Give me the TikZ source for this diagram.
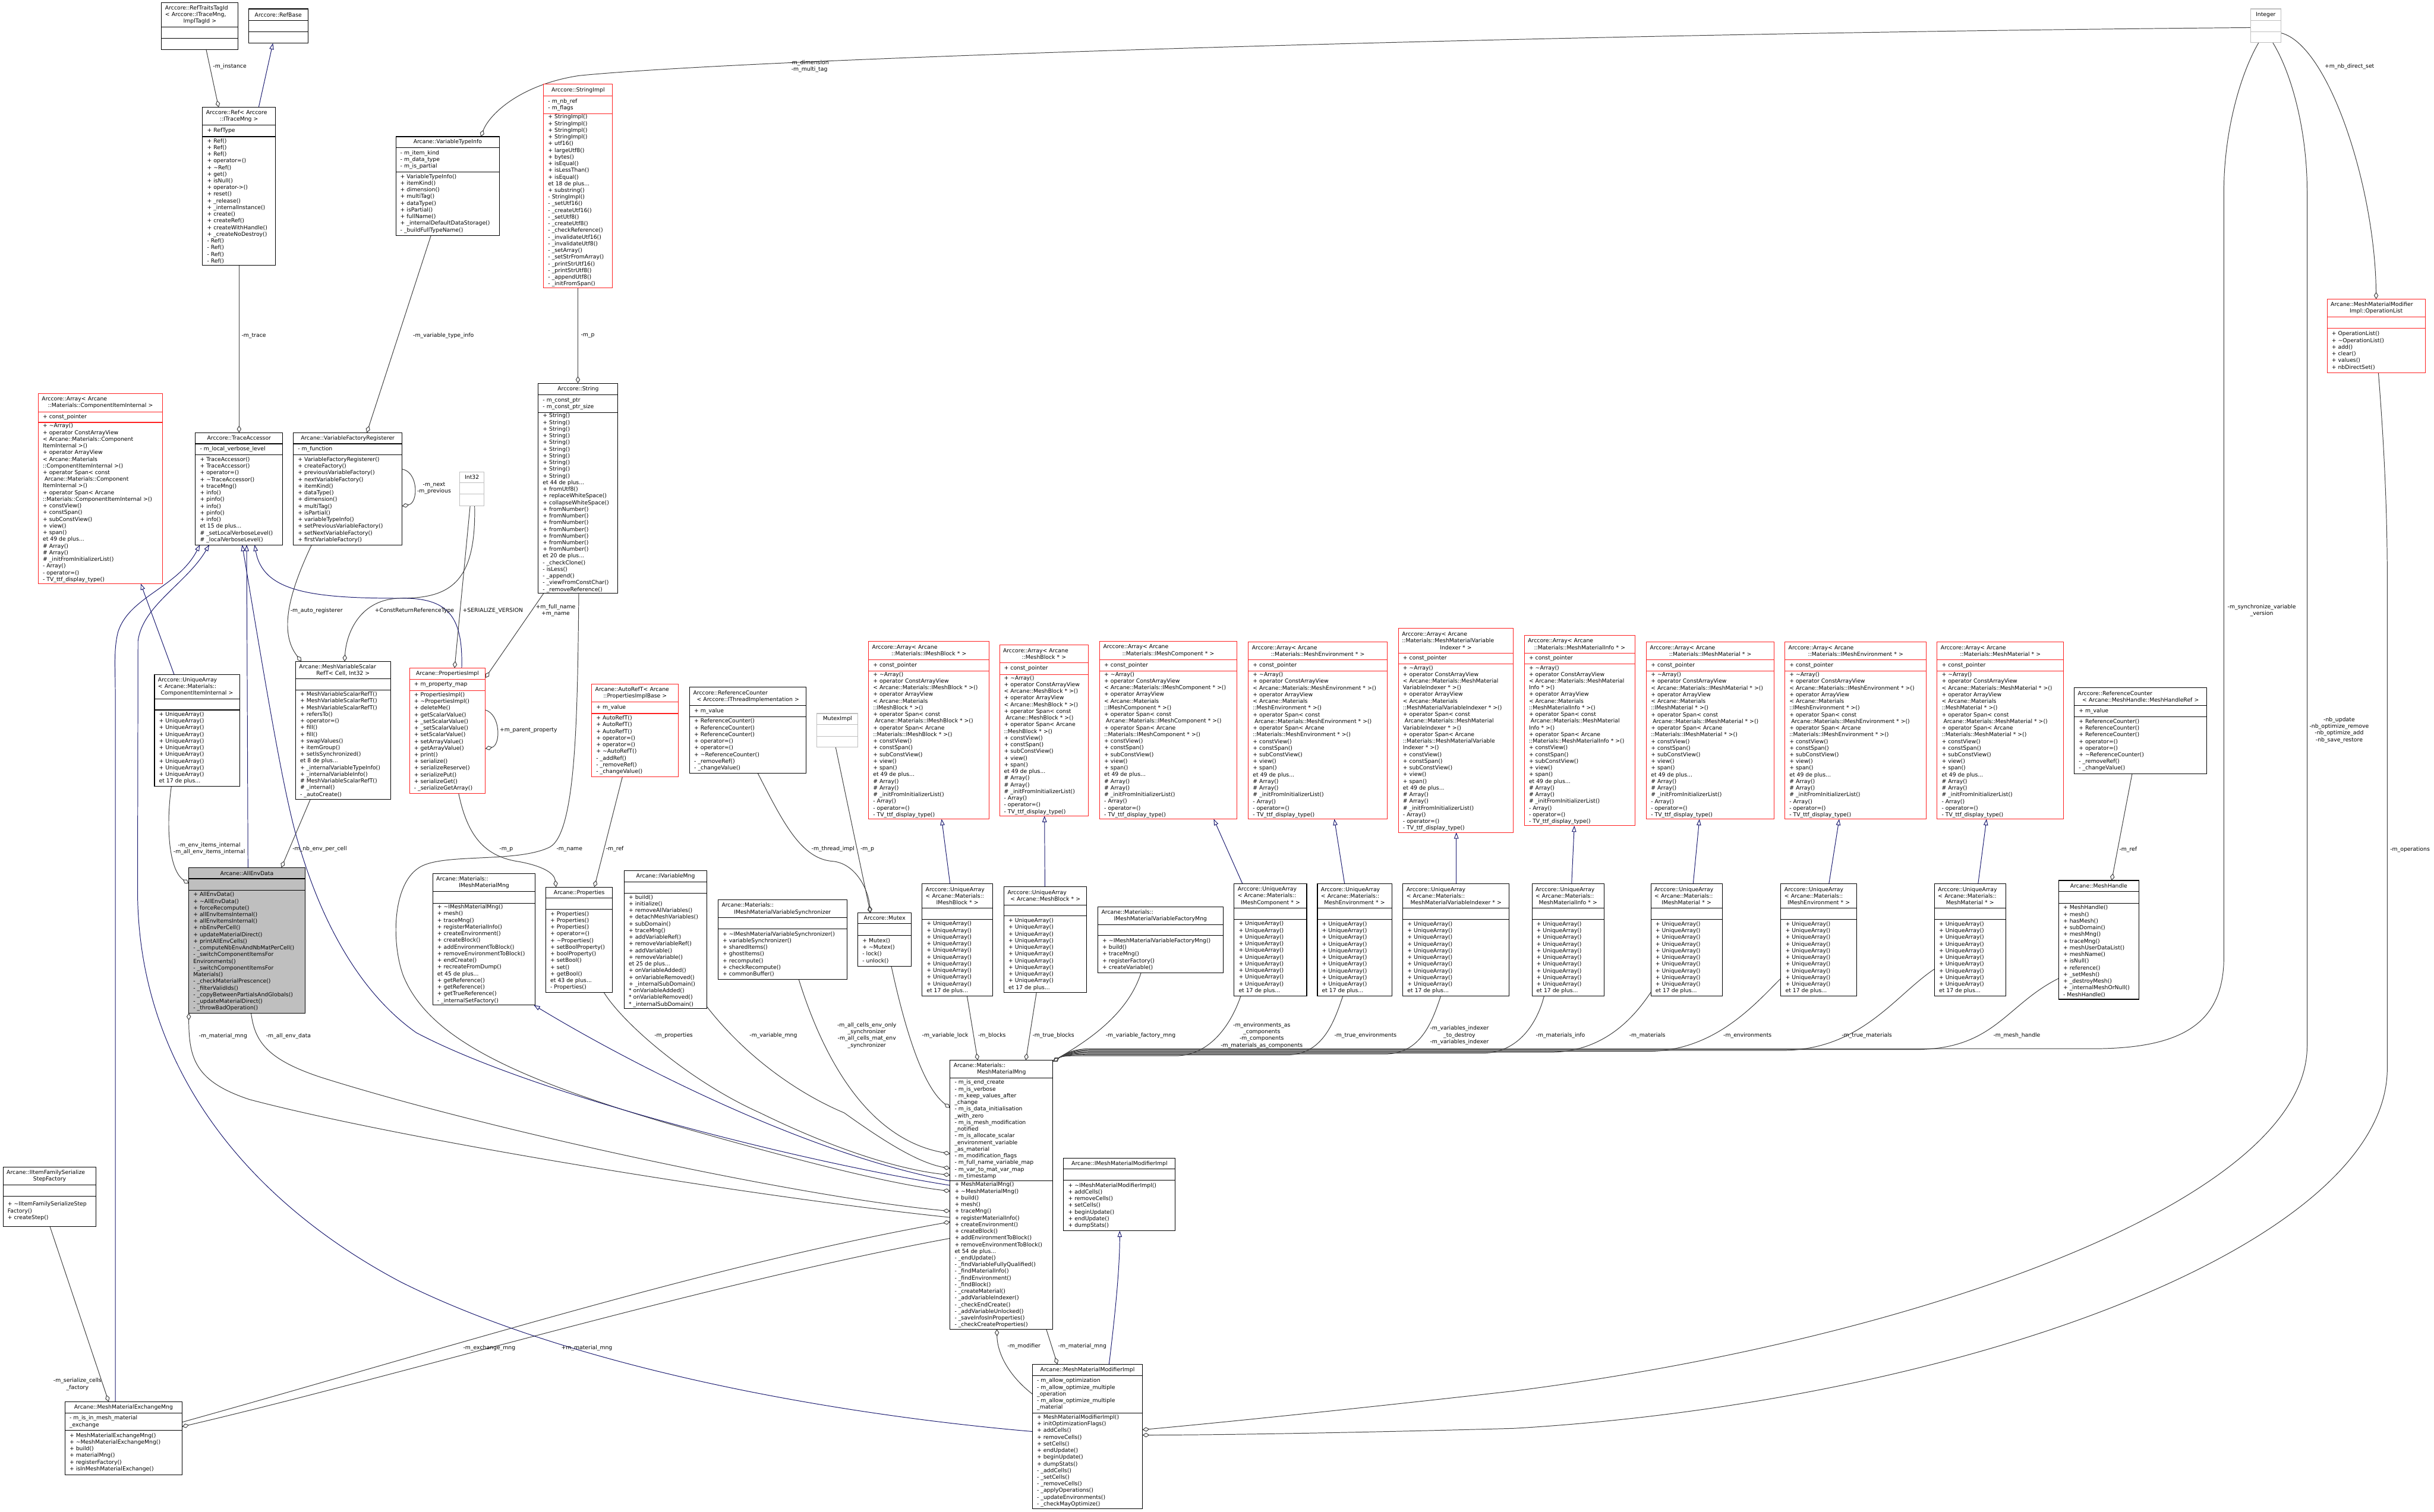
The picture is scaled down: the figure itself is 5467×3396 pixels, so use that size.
\documentclass[tikz,border=0pt]{standalone}
\usepackage{fontspec}
\setmainfont{DejaVu Sans}
\usetikzlibrary{arrows.meta,calc}
\pgfdeclarelayer{bgl}\pgfdeclarelayer{edgel}\pgfsetlayers{bgl,edgel,main}
\definecolor{boxred}{HTML}{FF2020}
\definecolor{boxgray}{HTML}{BFBFBF}
\definecolor{edgegray}{HTML}{404040}
\definecolor{inhblue}{HTML}{191970}
\newcommand{\fs}{\fontsize{12.4}{15}\selectfont}
\newcommand{\tld}{\textasciitilde}
\newcommand{\arrtail}{+ constView()\\+ constSpan()\\+ subConstView()\\+ view()\\+ span()\\et 49 de plus...\\\# Array()\\\# Array()\\\# \_initFromInitializerList()\\- Array()\\- operator=()\\- TV\_ttf\_display\_type()}
\newcommand{\arrstd}[1]{+ \tld{}Array()\\+ operator ConstArrayView\\< Arcane::Materials::#1 * >()\\+ operator ArrayView\\< Arcane::Materials\\::#1 * >()\\+ operator Span< const\\\ Arcane::Materials::#1 * >()\\+ operator Span< Arcane\\::Materials::#1 * >()\\\arrtail}
\newcommand{\uameth}{+ UniqueArray()\\+ UniqueArray()\\+ UniqueArray()\\+ UniqueArray()\\+ UniqueArray()\\+ UniqueArray()\\+ UniqueArray()\\+ UniqueArray()\\+ UniqueArray()\\+ UniqueArray()\\et 17 de plus...}
\newcommand{\rcmeth}{+ ReferenceCounter()\\+ ReferenceCounter()\\+ ReferenceCounter()\\+ operator=()\\+ operator=()\\+ \tld{}ReferenceCounter()\\- \_removeRef()\\- \_changeValue()}
\def\umlparse#1,#2,#3,#4\relax{\def\bxa{#1}\def\bxb{#2}\def\bxc{#3}\def\bxd{#4}}
\def\umldiv#1,#2\relax{\def\dva{#1}\def\dvb{#2}}
\newcommand{\umlbox}[8]{%
  \umlparse#2\relax\umldiv#3\relax
  \pgfmathsetmacro\uW{\bxc-\bxa}\pgfmathsetmacro\uH{\bxd-\bxb}%
  \pgfmathsetmacro\uTW{\bxc-\bxa-16}%
  \node[#4, anchor=north west, inner sep=0pt, outer sep=0pt, minimum width=\uW pt, minimum height=\uH pt] (#1) at (\bxa,\bxb) {};
  \draw[#4, fill=none] (\bxa,\dva) -- (\bxc,\dva) (\bxa,\dvb) -- (\bxc,\dvb);
  \pgfmathsetmacro\uTX{(\bxa+\bxc)/2}\pgfmathsetmacro\uTY{(\bxb+\dva)/2}%
  \node[ttl, text width=\uTW pt] at (\uTX,\uTY) {#5\hbox to\hsize{\hfil #6\hfil}};
  \pgfmathsetmacro\uAX{\bxa+10}\pgfmathsetmacro\uAY{(\dva+\dvb)/2}%
  \node[mem] at (\uAX,\uAY) {#7};
  \pgfmathsetmacro\uMY{(\dvb+\bxd)/2}%
  \node[mem] at (\uAX,\uMY) {#8};
}
\tikzset{
  boxblack/.style={draw=black, fill=white, line width=1.4pt},
  boxred/.style={draw=boxred, fill=white, line width=1.4pt},
  boxgray/.style={draw=boxgray, fill=white, line width=1.4pt},
  boxfill/.style={draw=black, fill=boxgray, line width=1.4pt},
  ttl/.style={font=\fs, align=left, inner sep=0pt},
  mem/.style={font=\fs, align=left, inner sep=0pt, anchor=west},
  lbl/.style={font=\fs, align=center, inner sep=0pt},
  agg/.style={draw=edgegray, line width=1.3pt, -{Diamond[open,length=16pt,width=10pt]}},
  inh/.style={draw=inhblue, line width=1.3pt, -{Triangle[open,length=14pt,width=10pt]}},
}
\begin{document}
\begin{tikzpicture}[x=1pt,y=-1pt]
\begin{pgfonlayer}{bgl}
\fill[white] (0,0) rectangle (5467,3396);
\end{pgfonlayer}
\useasboundingbox (0,0) rectangle (5467,3396);

% ---------------- boxes ----------------
\umlbox{rtt}{363,6,535,111}{61,86}{boxblack}{Arccore::RefTraitsTagId\\< Arccore::ITraceMng,\\}{ImplTagId >}{}{}
\umlbox{refbase}{558,20,692,97}{46,71}{boxblack}{}{Arccore::RefBase}{}{}
\umlbox{ref}{455,241,619,596}{281,307}{boxblack}{Arccore::Ref< Arccore\\}{::ITraceMng >}{+ RefType}{+ Ref()\\+ Ref()\\+ Ref()\\+ operator=()\\+ \tld{}Ref()\\+ get()\\+ isNull()\\+ operator->()\\+ reset()\\+ \_release()\\+ \_internalInstance()\\+ create()\\+ createRef()\\+ createWithHandle()\\+ \_createNoDestroy()\\- Ref()\\- Ref()\\- Ref()\\- Ref()}
\umlbox{vti}{889,307,1122,529}{332,386}{boxblack}{}{Arcane::VariableTypeInfo}{- m\_item\_kind\\- m\_data\_type\\- m\_is\_partial}{+ VariableTypeInfo()\\+ itemKind()\\+ dimension()\\+ multiTag()\\+ dataType()\\+ isPartial()\\+ fullName()\\+ \_internalDefaultDataStorage()\\- \_buildFullTypeName()}
\umlbox{simpl}{1221,189,1376,647}{216,255}{boxred}{}{Arccore::StringImpl}{- m\_nb\_ref\\- m\_flags}{+ StringImpl()\\+ StringImpl()\\+ StringImpl()\\+ StringImpl()\\+ utf16()\\+ largeUtf8()\\+ bytes()\\+ isEqual()\\+ isLessThan()\\+ isEqual()\\et 18 de plus...\\+ substring()\\- StringImpl()\\- \_setUtf16()\\- \_createUtf16()\\- \_setUtf8()\\- \_createUtf8()\\- \_checkReference()\\- \_invalidateUtf16()\\- \_invalidateUtf8()\\- \_setArray()\\- \_setStrFromArray()\\- \_printStrUtf16()\\- \_printStrUtf8()\\- \_appendUtf8()\\- \_initFromSpan()}
\umlbox{str}{1209,861,1388,1333}{887,927}{boxblack}{}{Arccore::String}{- m\_const\_ptr\\- m\_const\_ptr\_size}{+ String()\\+ String()\\+ String()\\+ String()\\+ String()\\+ String()\\+ String()\\+ String()\\+ String()\\+ String()\\et 44 de plus...\\+ fromUtf8()\\+ replaceWhiteSpace()\\+ collapseWhiteSpace()\\+ fromNumber()\\+ fromNumber()\\+ fromNumber()\\+ fromNumber()\\+ fromNumber()\\+ fromNumber()\\+ fromNumber()\\et 20 de plus...\\- \_checkClone()\\- isLess()\\- \_append()\\- \_viewFromConstChar()\\- \_removeReference()}
\umlbox{arrcii}{86,884,365,1311}{925,949}{boxred}{Arccore::Array< Arcane\\}{::Materials::ComponentItemInternal >}{+ const\_pointer}{+ \tld{}Array()\\+ operator ConstArrayView\\< Arcane::Materials::Component\\ItemInternal >()\\+ operator ArrayView\\< Arcane::Materials\\::ComponentItemInternal >()\\+ operator Span< const\\\ Arcane::Materials::Component\\ItemInternal >()\\+ operator Span< Arcane\\::Materials::ComponentItemInternal >()\\\arrtail}
\umlbox{ta}{439,972,635,1224}{997,1022}{boxblack}{}{Arccore::TraceAccessor}{- m\_local\_verbose\_level}{+ TraceAccessor()\\+ TraceAccessor()\\+ operator=()\\+ \tld{}TraceAccessor()\\+ traceMng()\\+ info()\\+ pinfo()\\+ info()\\+ pinfo()\\+ info()\\et 15 de plus...\\\# \_setLocalVerboseLevel()\\\# \_localVerboseLevel()}
\umlbox{vfr}{659,972,903,1224}{997,1022}{boxblack}{}{Arcane::VariableFactoryRegisterer}{- m\_function}{+ VariableFactoryRegisterer()\\+ createFactory()\\+ previousVariableFactory()\\+ nextVariableFactory()\\+ itemKind()\\+ dataType()\\+ dimension()\\+ multiTag()\\+ isPartial()\\+ variableTypeInfo()\\+ setPreviousVariableFactory()\\+ setNextVariableFactory()\\+ firstVariableFactory()}
\umlbox{int32}{1033,1060,1087,1136}{1085,1110}{boxgray}{}{Int32}{}{}
\umlbox{mvsr}{664,1486,877,1796}{1525,1550}{boxblack}{Arcane::MeshVariableScalar\\}{RefT< Cell, Int32 >}{}{+ MeshVariableScalarRefT()\\+ MeshVariableScalarRefT()\\+ MeshVariableScalarRefT()\\+ refersTo()\\+ operator=()\\+ fill()\\+ fill()\\+ swapValues()\\+ itemGroup()\\+ setIsSynchronized()\\et 8 de plus...\\+ \_internalVariableTypeInfo()\\+ \_internalVariableInfo()\\\# MeshVariableScalarRefT()\\\# \_internal()\\- \_autoCreate()}
\umlbox{pimpl}{920,1501,1090,1782}{1526,1551}{boxred}{}{Arcane::PropertiesImpl}{+ m\_property\_map}{+ PropertiesImpl()\\+ \tld{}PropertiesImpl()\\+ deleteMe()\\+ getScalarValue()\\+ \_setScalarValue()\\+ \_setScalarValue()\\+ setScalarValue()\\+ setArrayValue()\\+ getArrayValue()\\+ print()\\+ serialize()\\+ serializeReserve()\\+ serializePut()\\+ serializeGet()\\- \_serializeGetArray()}
\umlbox{uacii}{347,1515,538,1766}{1570,1595}{boxblack}{Arccore::UniqueArray\\< Arcane::Materials::\\}{ComponentItemInternal >}{}{\uameth}
\umlbox{autoref}{1329,1537,1524,1745}{1577,1603}{boxred}{Arcane::AutoRefT< Arcane\\}{::PropertiesImplBase >}{+ m\_value}{+ AutoRefT()\\+ AutoRefT()\\+ AutoRefT()\\+ operator=()\\+ operator=()\\+ \tld{}AutoRefT()\\- \_addRef()\\- \_removeRef()\\- \_changeValue()}
\umlbox{rcthr}{1549,1544,1811,1737}{1585,1610}{boxblack}{Arccore::ReferenceCounter\\}{< Arccore::IThreadImplementation >}{+ m\_value}{\rcmeth}
\umlbox{mutimpl}{1835,1603,1927,1679}{1628,1654}{boxgray}{}{MutexImpl}{}{}
\umlbox{aed}{424,1949,685,2276}{1974,2000}{boxfill}{}{Arcane::AllEnvData}{}{+ AllEnvData()\\+ \tld{}AllEnvData()\\+ forceRecompute()\\+ allEnvItemsInternal()\\+ allEnvItemsInternal()\\+ nbEnvPerCell()\\+ updateMaterialDirect()\\+ printAllEnvCells()\\- \_computeNbEnvAndNbMatPerCell()\\- \_switchComponentItemsFor\\Environments()\\- \_switchComponentItemsFor\\Materials()\\- \_checkMaterialPrescence()\\- \_filterValidIds()\\- \_copyBetweenPartialsAndGlobals()\\- \_updateMaterialDirect()\\- \_throwBadOperation()}
\umlbox{immm}{972,1963,1202,2258}{2003,2029}{boxblack}{Arcane::Materials::\\}{IMeshMaterialMng}{}{+ \tld{}IMeshMaterialMng()\\+ mesh()\\+ traceMng()\\+ registerMaterialInfo()\\+ createEnvironment()\\+ createBlock()\\+ addEnvironmentToBlock()\\+ removeEnvironmentToBlock()\\+ endCreate()\\+ recreateFromDump()\\et 45 de plus...\\+ getReference()\\+ getReference()\\+ getTrueReference()\\- \_internalSetFactory()}
\umlbox{props}{1226,1993,1376,2229}{2018,2043}{boxblack}{}{Arcane::Properties}{}{+ Properties()\\+ Properties()\\+ Properties()\\+ operator=()\\+ \tld{}Properties()\\+ setBoolProperty()\\+ boolProperty()\\+ setBool()\\+ set()\\+ getBool()\\et 43 de plus...\\- Properties()}
\umlbox{ivm}{1402,1956,1588,2266}{1981,2007}{boxblack}{}{Arcane::IVariableMng}{}{+ build()\\+ initialize()\\+ removeAllVariables()\\+ detachMeshVariables()\\+ subDomain()\\+ traceMng()\\+ addVariableRef()\\+ removeVariableRef()\\+ addVariable()\\+ removeVariable()\\et 25 de plus...\\+ onVariableAdded()\\+ onVariableRemoved()\\+ \_internalSubDomain()\\{}* onVariableAdded()\\{}* onVariableRemoved()\\{}* \_internalSubDomain()}
\umlbox{immvs}{1613,2022,1902,2200}{2062,2087}{boxblack}{Arcane::Materials::\\}{IMeshMaterialVariableSynchronizer}{}{+ \tld{}IMeshMaterialVariableSynchronizer()\\+ variableSynchronizer()\\+ sharedItems()\\+ ghostItems()\\+ recompute()\\+ checkRecompute()\\+ commonBuffer()}
\umlbox{mutex}{1927,2051,2047,2171}{2075,2101}{boxblack}{}{Arccore::Mutex}{}{+ Mutex()\\+ \tld{}Mutex()\\- lock()\\- unlock()}
\umlbox{arrimb}{1951,1441,2222,1840}{1482,1507}{boxred}{Arccore::Array< Arcane\\}{::Materials::IMeshBlock * >}{+ const\_pointer}{\arrstd{IMeshBlock}}
\umlbox{arrmb}{2245,1449,2445,1833}{1489,1515}{boxred}{Arccore::Array< Arcane\\}{::MeshBlock * >}{+ const\_pointer}{+ \tld{}Array()\\+ operator ConstArrayView\\< Arcane::MeshBlock * >()\\+ operator ArrayView\\< Arcane::MeshBlock * >()\\+ operator Span< const\\\ Arcane::MeshBlock * >()\\+ operator Span< Arcane\\::MeshBlock * >()\\\arrtail}
\umlbox{arrimc}{2470,1441,2778,1840}{1482,1507}{boxred}{Arccore::Array< Arcane\\}{::Materials::IMeshComponent * >}{+ const\_pointer}{\arrstd{IMeshComponent}}
\umlbox{arrme}{2804,1442,3116,1840}{1482,1508}{boxred}{Arccore::Array< Arcane\\}{::Materials::MeshEnvironment * >}{+ const\_pointer}{\arrstd{MeshEnvironment}}
\umlbox{arrmvi}{3141,1412,3399,1870}{1467,1492}{boxred}{Arccore::Array< Arcane\\::Materials::MeshMaterialVariable\\}{Indexer * >}{+ const\_pointer}{+ \tld{}Array()\\+ operator ConstArrayView\\< Arcane::Materials::MeshMaterial\\VariableIndexer * >()\\+ operator ArrayView\\< Arcane::Materials\\::MeshMaterialVariableIndexer * >()\\+ operator Span< const\\\ Arcane::Materials::MeshMaterial\\VariableIndexer * >()\\+ operator Span< Arcane\\::Materials::MeshMaterialVariable\\Indexer * >()\\\arrtail}
\umlbox{arrmmi}{3424,1427,3672,1855}{1467,1492}{boxred}{Arccore::Array< Arcane\\}{::Materials::MeshMaterialInfo * >}{+ const\_pointer}{+ \tld{}Array()\\+ operator ConstArrayView\\< Arcane::Materials::MeshMaterial\\Info * >()\\+ operator ArrayView\\< Arcane::Materials\\::MeshMaterialInfo * >()\\+ operator Span< const\\\ Arcane::Materials::MeshMaterial\\Info * >()\\+ operator Span< Arcane\\::Materials::MeshMaterialInfo * >()\\\arrtail}
\umlbox{arrimm}{3698,1442,3985,1840}{1482,1508}{boxred}{Arccore::Array< Arcane\\}{::Materials::IMeshMaterial * >}{+ const\_pointer}{\arrstd{IMeshMaterial}}
\umlbox{arrime}{4009,1442,4327,1840}{1482,1508}{boxred}{Arccore::Array< Arcane\\}{::Materials::IMeshEnvironment * >}{+ const\_pointer}{\arrstd{IMeshEnvironment}}
\umlbox{arrmm}{4351,1442,4635,1840}{1482,1508}{boxred}{Arccore::Array< Arcane\\}{::Materials::MeshMaterial * >}{+ const\_pointer}{\arrstd{MeshMaterial}}
\umlbox{uaimb}{2071,1986,2230,2237}{2040,2065}{boxblack}{Arccore::UniqueArray\\< Arcane::Materials::\\}{IMeshBlock * >}{}{\uameth}
\umlbox{uamb}{2255,1992,2441,2230}{2033,2058}{boxblack}{Arccore::UniqueArray\\}{< Arcane::MeshBlock * >}{}{\uameth}
\umlbox{immvfm}{2466,2037,2747,2185}{2077,2102}{boxblack}{Arcane::Materials::\\}{IMeshMaterialVariableFactoryMng}{}{+ \tld{}IMeshMaterialVariableFactoryMng()\\+ build()\\+ traceMng()\\+ registerFactory()\\+ createVariable()}
\umlbox{uaimc}{2772,1986,2935,2237}{2040,2065}{boxblack}{Arccore::UniqueArray\\< Arcane::Materials::\\}{IMeshComponent * >}{}{\uameth}
\umlbox{uame}{2959,1985,3126,2238}{2040,2065}{boxblack}{Arccore::UniqueArray\\< Arcane::Materials::\\}{MeshEnvironment * >}{}{\uameth}
\umlbox{uamvi}{3151,1985,3390,2238}{2040,2065}{boxblack}{Arccore::UniqueArray\\< Arcane::Materials::\\}{MeshMaterialVariableIndexer * >}{}{\uameth}
\umlbox{uammi}{3441,1985,3603,2238}{2040,2065}{boxblack}{Arccore::UniqueArray\\< Arcane::Materials::\\}{MeshMaterialInfo * >}{}{\uameth}
\umlbox{uaimm}{3708,1985,3868,2238}{2040,2065}{boxblack}{Arccore::UniqueArray\\< Arcane::Materials::\\}{IMeshMaterial * >}{}{\uameth}
\umlbox{uaime}{4000,1985,4170,2238}{2040,2065}{boxblack}{Arccore::UniqueArray\\< Arcane::Materials::\\}{IMeshEnvironment * >}{}{\uameth}
\umlbox{uamm}{4345,1985,4505,2238}{2040,2065}{boxblack}{Arccore::UniqueArray\\< Arcane::Materials::\\}{MeshMaterial * >}{}{\uameth}
\umlbox{rcmh}{4659,1545,4957,1738}{1585,1610}{boxblack}{Arccore::ReferenceCounter\\}{< Arcane::MeshHandle::MeshHandleRef >}{+ m\_value}{\rcmeth}
\umlbox{mh}{4624,1978,4804,2245}{2003,2029}{boxblack}{}{Arcane::MeshHandle}{}{+ MeshHandle()\\+ mesh()\\+ hasMesh()\\+ subDomain()\\+ meshMng()\\+ traceMng()\\+ meshUserDataList()\\+ meshName()\\+ isNull()\\+ reference()\\+ \_setMesh()\\+ \_destroyMesh()\\+ \_internalMeshOrNull()\\- MeshHandle()}
\umlbox{integer}{5055,20,5123,96}{46,71}{boxgray}{}{Integer}{}{}
\umlbox{oplist}{5227,672,5447,837}{712,738}{boxred}{Arcane::MeshMaterialModifier\\}{Impl::OperationList}{}{+ OperationList()\\+ \tld{}OperationList()\\+ add()\\+ clear()\\+ values()\\+ nbDirectSet()}
\umlbox{mmm}{2134,2382,2365,2986}{2422,2653}{boxblack}{Arcane::Materials::\\}{MeshMaterialMng}{- m\_is\_end\_create\\- m\_is\_verbose\\- m\_keep\_values\_after\\\_change\\- m\_is\_data\_initialisation\\\_with\_zero\\- m\_is\_mesh\_modification\\\_notified\\- m\_is\_allocate\_scalar\\\_environment\_variable\\\_as\_material\\- m\_modification\_flags\\- m\_full\_name\_variable\_map\\- m\_var\_to\_mat\_var\_map\\- m\_timestamp}{+ MeshMaterialMng()\\+ \tld{}MeshMaterialMng()\\+ build()\\+ mesh()\\+ traceMng()\\+ registerMaterialInfo()\\+ createEnvironment()\\+ createBlock()\\+ addEnvironmentToBlock()\\+ removeEnvironmentToBlock()\\et 54 de plus...\\- \_endUpdate()\\- \_findVariableFullyQualified()\\- \_findMaterialInfo()\\- \_findEnvironment()\\- \_findBlock()\\- \_createMaterial()\\- \_addVariableIndexer()\\- \_checkEndCreate()\\- \_addVariableUnlocked()\\- \_saveInfosInProperties()\\- \_checkCreateProperties()}
\umlbox{immmi}{2389,2602,2640,2765}{2626,2652}{boxblack}{}{Arcane::IMeshMaterialModifierImpl}{}{+ \tld{}IMeshMaterialModifierImpl()\\+ addCells()\\+ removeCells()\\+ setCells()\\+ beginUpdate()\\+ endUpdate()\\+ dumpStats()}
\umlbox{mmmi}{2319,3065,2566,3390}{3091,3174}{boxblack}{}{Arcane::MeshMaterialModifierImpl}{- m\_allow\_optimization\\- m\_allow\_optimize\_multiple\\\_operation\\- m\_allow\_optimize\_multiple\\\_material}{+ MeshMaterialModifierImpl()\\+ initOptimizationFlags()\\+ addCells()\\+ removeCells()\\+ setCells()\\+ endUpdate()\\+ beginUpdate()\\+ dumpStats()\\- \_addCells()\\- \_setCells()\\- \_removeCells()\\- \_applyOperations()\\- \_updateEnvironments()\\- \_checkMayOptimize()}
\umlbox{iifs}{7,2622,216,2755}{2662,2687}{boxblack}{Arcane::IItemFamilySerialize\\}{StepFactory}{}{+ \tld{}IItemFamilySerializeStep\\Factory()\\+ createStep()}
\umlbox{mmem}{146,3149,409,3313}{3175,3213}{boxblack}{}{Arcane::MeshMaterialExchangeMng}{- m\_is\_in\_mesh\_material\\\_exchange}{+ MeshMaterialExchangeMng()\\+ \tld{}MeshMaterialExchangeMng()\\+ build()\\+ materialMng()\\+ registerFactory()\\+ isInMeshMaterialExchange()}

% ---------------- connectors ----------------
\begin{pgfonlayer}{edgel}
\draw[agg] ($(rtt.south west)+(100,0)$) -- ($(ref.north west)+(36,0)$);
\draw[inh] ($(ref.north west)+(126,0)$) -- ($(refbase.south west)+(55,0)$);
\draw[agg] ($(ref.south west)+(82,0)$) -- ($(ta.north west)+(98,0)$);
\draw[agg] ($(vti.south west)+(79,0)$) -- ($(vfr.north west)+(165,0)$);
\draw[agg] ($(integer.west)+(0,4)$) .. controls (3500,75) and (1700,130) .. (1300,170) .. controls (1170,190) and (1100,255) .. ($(vti.north west)+(191,0)$);
\draw[agg] ($(simpl.south west)+(77,0)$) -- ($(str.north west)+(89,0)$);
\draw[agg] ($(vfr.north east)+(0,82)$) .. controls (940,1060) and (940,1130) .. ($(vfr.north east)+(0,165)$);
\draw[agg] ($(vfr.south west)+(41,0)$) .. controls (650,1330) and (625,1420) .. ($(mvsr.north west)+(13,0)$);
\draw[agg] ($(int32.south west)+(33,0)$) .. controls (1070,1310) and (1010,1344) .. (900,1344) .. controls (810,1345) and (778,1420) .. ($(mvsr.north west)+(110,0)$);
\draw[agg] ($(int32.south west)+(23,0)$) -- ($(pimpl.north west)+(101,0)$);
\draw[inh] ($(pimpl.north west)+(117,0)$) .. controls (1040,1390) and (1010,1346) .. (912,1344) .. controls (700,1345) and (590,1330) .. ($(ta.south west)+(133,0)$);
\draw[agg] ($(str.south west)+(12,0)$) -- ($(pimpl.north east)+(0,22)$);
\draw[agg] ($(pimpl.north east)+(0,94)$) .. controls (1125,1605) and (1125,1675) .. ($(pimpl.north east)+(0,181)$);
\draw[agg] ($(pimpl.south west)+(110,0)$) .. controls (1050,1880) and (1090,1925) .. (1167,1936) .. controls (1215,1945) and (1245,1960) .. ($(props.north west)+(23,0)$);
\draw[agg] ($(autoref.south west)+(69,0)$) -- ($(props.north west)+(109,0)$);
\draw[agg] ($(rcthr.south west)+(153,0)$) .. controls (1760,1850) and (1800,1930) .. (1871,1935) .. controls (1920,1940) and (1950,1995) .. ($(mutex.north west)+(28,0)$);
\draw[agg] ($(mutimpl.south west)+(42,0)$) -- ($(mutex.north west)+(28,0)$);
\draw[inh] ($(uacii.north west)+(44,0)$) -- ($(arrcii.south west)+(230,0)$);
\draw[agg] ($(uacii.south west)+(38,0)$) .. controls (372,1860) and (380,1955) .. ($(aed.north west)+(0,36)$);
\draw[agg] ($(mvsr.south west)+(33,0)$) -- ($(aed.north west)+(208,0)$);
\draw[inh] ($(aed.north west)+(133,0)$) -- ($(ta.south west)+(115,0)$);
\draw[agg] ($(aed.south west)+(140,0)$) .. controls (572,2340) and (600,2380) .. (720,2420) .. controls (1100,2540) and (1800,2690) .. ($(mmm.north west)+(0,339)$);
\draw[agg] ($(mmm.north west)+(0,353)$) .. controls (1700,2690) and (900,2560) .. (560,2470) .. controls (440,2430) and (424,2380) .. (aed.south west);
\draw[agg] ($(str.south west)+(91,0)$) .. controls (1297,1600) and (1295,1870) .. (1235,1903) .. controls (1160,1940) and (990,1915) .. (940,1950) .. controls (880,1990) and (880,2120) .. (905,2190) .. controls (960,2330) and (1150,2420) .. (1500,2524) .. controls (1800,2610) and (2000,2660) .. ($(mmm.north west)+(0,294)$);
\draw[inh] ($(mmm.north west)+(0,271)$) .. controls (1800,2590) and (1400,2380) .. ($(immm.south east)+(-3,0)$);
\draw[agg] ($(props.south west)+(130,0)$) .. controls (1400,2300) and (1550,2430) .. (1707,2500) .. controls (1850,2570) and (2000,2625) .. ($(mmm.north west)+(0,258)$);
\draw[agg] ($(ivm.south east)+(0,-4)$) .. controls (1680,2380) and (1800,2460) .. (1896,2500) .. controls (1980,2560) and (2060,2612) .. ($(mmm.north west)+(0,243)$);
\draw[agg] ($(immvs.south west)+(181,0)$) .. controls (1850,2380) and (1950,2560) .. ($(mmm.north west)+(0,210)$);
\draw[agg] ($(mutex.south west)+(75,0)$) .. controls (2030,2300) and (2070,2440) .. ($(mmm.north west)+(0,107)$);
\draw[agg] ($(uaimb.south west)+(101,0)$) -- ($(mmm.north west)+(62,0)$);
\draw[agg] ($(uamb.south west)+(73,0)$) -- ($(mmm.north west)+(170,0)$);
\draw[agg] ($(immvfm.south west)+(97,0)$) .. controls (2530,2290) and (2420,2350) .. ($(mmm.north east)+(0,3)$);
\draw[agg] ($(uaimc.south west)+(15,0)$) .. controls +(-20,60) and +(80,0) .. (2640,2372) -- (2450,2372) .. controls +(-45,0) and +(22,-14) .. ($(mmm.north east)+(0,3)$);
\draw[agg] ($(uame.south west)+(57,0)$) .. controls +(-20,60) and +(80,0) .. (2890,2370) -- (2450,2370) .. controls +(-45,0) and +(22,-14) .. ($(mmm.north east)+(0,3)$);
\draw[agg] ($(uamvi.south west)+(85,0)$) .. controls +(-20,60) and +(80,0) .. (3110,2368) -- (2450,2368) .. controls +(-45,0) and +(22,-14) .. ($(mmm.north east)+(0,3)$);
\draw[agg] ($(uammi.south west)+(27,0)$) .. controls +(-15,60) and +(80,0) .. (3330,2366) -- (2450,2366) .. controls +(-45,0) and +(22,-14) .. ($(mmm.north east)+(0,3)$);
\draw[agg] ($(uaimm.south west)+(0,-9)$) .. controls +(-40,60) and +(120,0) .. (3480,2364) -- (2450,2364) .. controls +(-45,0) and +(22,-14) .. ($(mmm.north east)+(0,3)$);
\draw[agg] ($(uaime.south west)+(0,-40)$) .. controls +(-60,60) and +(150,0) .. (3700,2362) -- (2450,2362) .. controls +(-45,0) and +(22,-14) .. ($(mmm.north east)+(0,3)$);
\draw[agg] ($(uamm.south west)+(0,-61)$) .. controls +(-90,60) and +(180,0) .. (4000,2360) -- (2450,2360) .. controls +(-45,0) and +(22,-14) .. ($(mmm.north east)+(0,3)$);
\draw[agg] ($(mh.south west)+(0,-47)$) .. controls +(-120,60) and +(180,0) .. (4300,2358) -- (2450,2358) .. controls +(-45,0) and +(22,-14) .. ($(mmm.north east)+(0,3)$);
\draw[agg] ($(integer.south west)+(18,0)$) .. controls (5030,170) and (4995,300) .. (4995,430) -- (4995,2150) .. controls (4995,2300) and (4900,2356) .. (4700,2356) -- (2450,2356) .. controls +(-45,0) and +(22,-14) .. ($(mmm.north east)+(0,3)$);
\draw[agg] ($(integer.south west)+(50,0)$) .. controls (5150,170) and (5182,300) .. (5182,430) -- (5182,2350) .. controls (5182,2700) and (4300,3010) .. (3400,3125) .. controls (3000,3170) and (2700,3200) .. ($(mmmi.north east)+(0,147)$);
\draw[agg] ($(integer.east)+(0,16)$) .. controls (5230,100) and (5335,420) .. ($(oplist.north west)+(110,0)$);
\draw[agg] ($(oplist.south west)+(115,0)$) .. controls (5355,1000) and (5362,1150) .. (5362,1300) -- (5362,2400) .. controls (5362,2800) and (4400,3150) .. (3400,3209) .. controls (3000,3220) and (2700,3224) .. ($(mmmi.north east)+(0,159)$);
\draw[agg] ($(rcmh.south west)+(130,0)$) -- ($(mh.north west)+(119,0)$);
\draw[agg] ($(mmm.south west)+(216,0)$) -- ($(mmmi.north west)+(56,0)$);
\draw[agg] ($(mmmi.north west)+(0,67)$) .. controls (2265,3090) and (2240,3040) .. ($(mmm.south west)+(105,0)$);
\draw[inh] ($(mmmi.north west)+(172,0)$) .. controls (2505,2950) and (2515,2850) .. ($(immmi.south west)+(126,0)$);
\draw[agg] ($(mmem.north east)+(0,46)$) .. controls (1000,3030) and (1600,2840) .. ($(mmm.north west)+(0,363)$);
\draw[agg] ($(mmm.north west)+(0,400)$) .. controls (1600,2880) and (900,3090) .. ($(mmem.north east)+(0,56)$);
\draw[agg] ($(iifs.south west)+(105,0)$) -- ($(mmem.north west)+(98,0)$);
\draw[inh] ($(mmem.north west)+(113,0)$) -- (259,1560) .. controls (259,1500) and (255,1460) .. (265,1420) .. controls (290,1340) and (400,1320) .. ($(ta.south west)+(10,0)$);
\draw[inh] ($(mmmi.north west)+(0,151)$) .. controls (1900,3180) and (1300,3080) .. (900,2880) .. controls (560,2700) and (309,2400) .. (309,2000) -- (310,1440) .. controls (320,1360) and (420,1310) .. ($(ta.south west)+(31,0)$);
\draw[inh] ($(mmm.north west)+(0,281)$) .. controls (1800,2610) and (1200,2460) .. (935,2320) .. controls (765,2200) and (695,1975) .. (672,1900) .. controls (640,1800) and (600,1560) .. ($(ta.south west)+(105,0)$);
% Array <- UniqueArray
\draw[inh] ($(uaimb.north west)+(63,0)$) -- ($(arrimb.south west)+(164,0)$);
\draw[inh] ($(uamb.north west)+(92,0)$) -- ($(arrmb.south west)+(101,0)$);
\draw[inh] ($(uaimc.north west)+(19,0)$) -- ($(arrimc.south west)+(256,0)$);
\draw[inh] ($(uame.north west)+(61,0)$) -- ($(arrme.south west)+(193,0)$);
\draw[inh] ($(uamvi.north west)+(120,0)$) -- ($(arrmvi.south west)+(130,0)$);
\draw[inh] ($(uammi.north west)+(89,0)$) -- ($(arrmmi.south west)+(112,0)$);
\draw[inh] ($(uaimm.north west)+(95,0)$) -- ($(arrimm.south west)+(119,0)$);
\draw[inh] ($(uaime.north west)+(108,0)$) -- ($(arrime.south west)+(122,0)$);
\draw[inh] ($(uamm.north west)+(98,0)$) -- ($(arrmm.south west)+(111,0)$);
\end{pgfonlayer}

% ---------------- labels ----------------
\node[lbl] (l1) at (516,149) {-m\_instance};
\node[lbl] (l2) at (570,754) {-m\_trace};
\node[lbl] (l3) at (996,754) {-m\_variable\_type\_info};
\node[lbl] (l4) at (1818,149) {-m\_dimension\\-m\_multi\_tag};
\node[lbl] (l5) at (1320,754) {-m\_p};
\node[lbl] (l6) at (975,1097) {-m\_next\\-m\_previous};
\node[lbl] (l7) at (711,1372) {-m\_auto\_registerer};
\node[lbl] (l8) at (931,1372) {+ConstReturnReferenceType};
\node[lbl] (l9) at (1107,1372) {+SERIALIZE\_VERSION};
\node[lbl] (l10) at (1248,1372) {+m\_full\_name\\+m\_name};
\node[lbl] (l11) at (1187,1641) {+m\_parent\_property};
\node[lbl] (l12) at (1137,1908) {-m\_p};
\node[lbl] (l13) at (1279,1908) {-m\_name};
\node[lbl] (l14) at (1381,1908) {-m\_ref};
\node[lbl] (l15) at (1871,1908) {-m\_thread\_impl};
\node[lbl] (l16) at (1948,1908) {-m\_p};
\node[lbl] (l17) at (470,1907) {-m\_env\_items\_internal\\-m\_all\_env\_items\_internal};
\node[lbl] (l18) at (718,1908) {-m\_nb\_env\_per\_cell};
\node[lbl] (l19) at (501,2328) {-m\_material\_mng};
\node[lbl] (l20) at (648,2328) {-m\_all\_env\_data};
\node[lbl] (l21) at (1513,2327) {-m\_properties};
\node[lbl] (l22) at (1737,2327) {-m\_variable\_mng};
\node[lbl] (l23) at (1947,2326) {-m\_all\_cells\_env\_only\\\_synchronizer\\-m\_all\_cells\_mat\_env\\\_synchronizer};
\node[lbl] (l24) at (2123,2326) {-m\_variable\_lock};
\node[lbl] (l25) at (2228,2326) {-m\_blocks};
\node[lbl] (l26) at (2366,2326) {-m\_true\_blocks};
\node[lbl] (l27) at (2562,2326) {-m\_variable\_factory\_mng};
\node[lbl] (l28) at (2834,2326) {-m\_environments\_as\\\_components\\-m\_components\\-m\_materials\_as\_components};
\node[lbl] (l29) at (3067,2326) {-m\_true\_environments};
\node[lbl] (l30) at (3278,2326) {-m\_variables\_indexer\\\_to\_destroy\\-m\_variables\_indexer};
\node[lbl] (l31) at (3505,2326) {-m\_materials\_info};
\node[lbl] (l32) at (3700,2326) {-m\_materials};
\node[lbl] (l33) at (3925,2326) {-m\_environments};
\node[lbl] (l34) at (4193,2326) {-m\_true\_materials};
\node[lbl] (l35) at (4530,2326) {-m\_mesh\_handle};
\node[lbl] (l36) at (5080,1371) {-m\_synchronize\_variable\\\_version};
\node[lbl] (l37) at (5254,1640) {-nb\_update\\-nb\_optimize\_remove\\-nb\_optimize\_add\\-nb\_save\_restore};
\node[lbl] (l38) at (5277,149) {+m\_nb\_direct\_set};
\node[lbl] (l39) at (5413,1909) {-m\_operations};
\node[lbl] (l40) at (4780,1909) {-m\_ref};
\node[lbl] (l41) at (2431,3025) {-m\_material\_mng};
\node[lbl] (l42) at (2300,3025) {-m\_modifier};
\node[lbl] (l43) at (1099,3028) {-m\_exchange\_mng};
\node[lbl] (l44) at (1318,3028) {+m\_material\_mng};
\node[lbl] (l45) at (174,3110) {-m\_serialize\_cells\\\_factory};
\end{tikzpicture}
\end{document}
